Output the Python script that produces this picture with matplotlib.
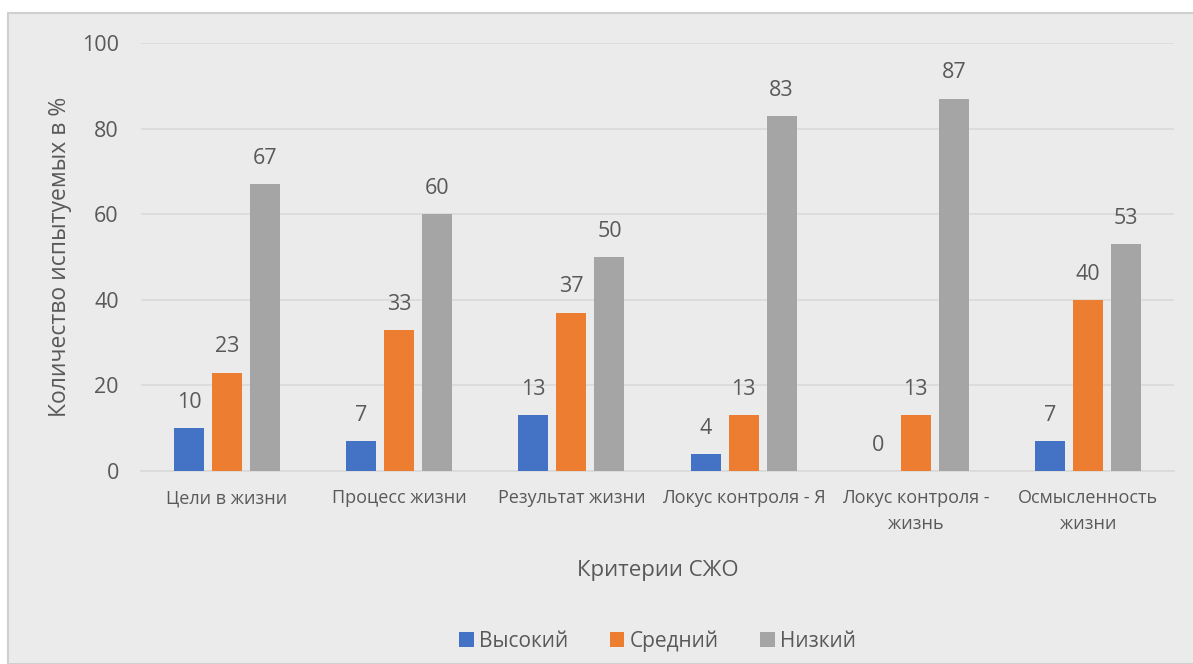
import matplotlib
matplotlib.use("Agg")
import matplotlib.pyplot as plt
import numpy as np
from matplotlib.patches import Rectangle

plt.rcParams['font.family'] = ['Open Sans', 'DejaVu Sans']

categories = ['Цели в жизни', 'Процесс жизни', 'Результат жизни',
              'Локус контроля - Я', 'Локус контроля -\nжизнь', 'Осмысленность\nжизни']
high = [10, 7, 13, 4, 0, 7]
medium = [23, 33, 37, 13, 13, 40]
low = [67, 60, 50, 83, 87, 53]
series_names = ['Высокий', 'Средний', 'Низкий']
colors = ['#4472C4', '#ED7D31', '#A5A5A5']
yticks = [0, 20, 40, 60, 80, 100]

text_col = '#595959'
bg = '#EBEBEB'

fig = plt.figure(figsize=(11.93, 6.64), dpi=100, facecolor='white')
fig.patches.append(Rectangle((8 / 1193, 0), 1.0, 1 - 13 / 664, transform=fig.transFigure,
                             facecolor=bg, edgecolor='#D0D0D0', linewidth=1.5, zorder=-10))

ax = fig.add_axes([141 / 1193, 1 - 471 / 664, 1033 / 1193, 428 / 664])
ax.patch.set_alpha(0)

x = np.arange(len(categories))
offset = 0.221
width = 0.174
for i, (vals, name, c) in enumerate(zip([high, medium, low], series_names, colors)):
    bars = ax.bar(x + (i - 1) * offset, vals, width, color=c, label=name, zorder=3)
    for b, v in zip(bars, vals):
        ax.text(b.get_x() + b.get_width() / 2, v + 6.0, str(v), ha='center', va='center',
                fontsize=15.5, color=text_col)

ax.set_xlim(-0.5, len(categories) - 0.5)
ax.set_ylim(0, 100)
ax.set_yticks(yticks)
ax.yaxis.grid(True, color='#D9D9D9', linewidth=1.2, zorder=0)
ax.set_axisbelow(True)
for s in ['top', 'right', 'left']:
    ax.spines[s].set_visible(False)
ax.spines['bottom'].set_color('#D9D9D9')
ax.spines['bottom'].set_linewidth(1.2)
ax.tick_params(axis='both', length=0, colors=text_col)
ax.tick_params(axis='y', labelsize=15.5, pad=16)
ax.set_xticks(x)
ax.set_xticklabels(categories, fontsize=13, linespacing=1.6)
ax.tick_params(axis='x', pad=13)

ax.set_xlabel('Критерии СЖО', fontsize=16, color=text_col, labelpad=19)
ax.set_ylabel('Количество испытуемых в %', fontsize=16.5, color=text_col, labelpad=7)

ax.legend(loc='upper center', bbox_to_anchor=(0.5, -0.328), ncol=3, frameon=False,
          fontsize=15, labelcolor=text_col, handlelength=0.7, handleheight=0.7,
          handletextpad=0.25, columnspacing=2.0)

fig.savefig('out.png', dpi=100, facecolor=fig.get_facecolor())
